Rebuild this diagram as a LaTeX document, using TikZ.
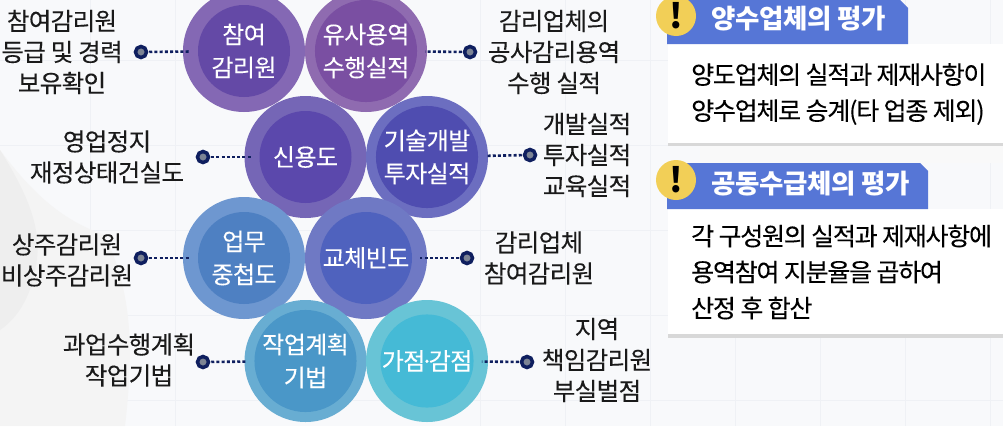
\documentclass[tikz,border=0pt]{standalone}
\usepackage{fontspec}
\setmainfont[LetterSpace=-2.5,FakeBold=0.12]{Noto Sans CJK KR}
\newfontfamily\bodyfont[LetterSpace=-5,FakeBold=0.12]{Noto Sans CJK KR}
\newfontfamily\ttlfont[LetterSpace=-1.5]{Noto Sans CJK KR}
\usetikzlibrary{calc}
\definecolor{bgc}{HTML}{F8F9FB}
\definecolor{gridc}{HTML}{EFF1F5}
\definecolor{navy}{HTML}{0F1F5F}
\definecolor{dotg}{HTML}{7C8494}
\definecolor{tabc}{HTML}{5676D6}
\definecolor{yel}{HTML}{F2CF57}
\definecolor{sh}{HTML}{D8D8D8}
\definecolor{inkc}{HTML}{1A1A1A}
\definecolor{o1}{HTML}{8468B4}\definecolor{i1}{HTML}{6449A6}
\definecolor{o2}{HTML}{8F6BB0}\definecolor{i2}{HTML}{7A4FA2}
\definecolor{o3}{HTML}{7566B6}\definecolor{i3}{HTML}{5B48AC}
\definecolor{o4}{HTML}{6C6EC0}\definecolor{i4}{HTML}{4F4DB0}
\definecolor{o5}{HTML}{6E97D0}\definecolor{i5}{HTML}{4E80C2}
\definecolor{o6}{HTML}{6F79C4}\definecolor{i6}{HTML}{4F62BE}
\definecolor{o7}{HTML}{68ADD2}\definecolor{i7}{HTML}{4A97C8}
\definecolor{o8}{HTML}{68C4D6}\definecolor{i8}{HTML}{45BAD6}
\tikzset{
  ring/.style={circle,inner sep=0,minimum size=122pt,fill=#1},
  core/.style={circle,inner sep=0,minimum size=92pt,fill=#1,text=white,align=center,font=\fontsize{24}{33}\selectfont},
  dotn/.style={circle,inner sep=0,minimum size=11pt,fill=dotg,draw=navy,line width=3.5pt},
  lbl/.style={inner sep=0,align=center,text=inkc,font=\fontsize{24.5}{31}\selectfont},
  body/.style={inner sep=0,align=left,text=black,anchor=west,font=\fontsize{25}{36}\bodyfont},
  ttl/.style={inner sep=0,anchor=west,text=white,font=\fontsize{26.5}{30}\ttlfont\bfseries},
  conn/.style={navy,line width=2.6pt,dash pattern=on 3pt off 2.2pt},
  panel/.style={fill=white},
  tab/.style={fill=tabc},
  badge/.style={circle,inner sep=0,minimum size=40pt,fill=yel},
  bang/.style={inner sep=0,text=black,font=\fontsize{34}{34}\ttlfont\bfseries}
}
\begin{document}
\begin{tikzpicture}[x=1pt,y=-1pt]
\useasboundingbox (0,0) rectangle (1003,426);
\fill[bgc] (0,0) rectangle (1003,426);
\foreach \g in {60,145,230,315,400}{\draw[gridc,line width=.7pt] (0,\g) -- (1003,\g);}
\foreach \g in {90,175,480,565,650,735,820,905,990}{\draw[gridc,line width=.7pt] (\g,0) -- (\g,426);}
% faint figure at the left
\fill[gray!9] (0,150) .. controls (30,190) and (60,220) .. (105,235) .. controls (130,290) and (135,340) .. (125,426) -- (0,426) -- cycle;
\fill[gray!13] (0,150) .. controls (25,190) and (45,230) .. (35,270) .. controls (30,300) and (15,320) .. (0,330) -- cycle;
\fill[gray!5] (700,146) rectangle (1003,163);
% circles
\foreach \n/\x/\y/\c in {1/244/51/1,2/366/51/2,3/305.5/157/3,4/427/157/4,5/244/258/5,6/366/258/6,7/305.5/361/7,8/427/361/8}{
  \node[ring=o\c] (r\n) at (\x,\y) {};
}
\node[core=i1] (c1) at (r1) {참여\\감리원};
\node[core=i2] (c2) at (r2) {유사용역\\수행실적};
\node[core=i3] (c3) at (r3) {신용도};
\node[core=i4] (c4) at (r4) {기술개발\\투자실적};
\node[core=i5] (c5) at (r5) {업무\\중첩도};
\node[core=i6] (c6) at (r6) {교체빈도};
\node[core=i7] (c7) at (r7) {작업계획\\기법};
\node[core=i8] (c8) at (r8) {가점\kern-5pt·\kern-5pt감점};
% dots
\node[dotn] (d1) at (141,52) {};
\node[dotn] (d2) at (470,52) {};
\node[dotn] (d3) at (203,157) {};
\node[dotn] (d4) at (530,155) {};
\node[dotn] (d5) at (141,258) {};
\node[dotn] (d6) at (467,258) {};
\node[dotn] (d7) at (203,362) {};
\node[dotn] (d8) at (527,362) {};
\foreach \n in {1,...,8}{\draw[conn,shorten >=8pt,shorten <=1pt] (d\n) -- (c\n);}
% labels
\node[lbl] (l1) at (62,52) {참여감리원\\등급 및 경력\\보유확인};
\node[lbl] (l2) at (554,52) {감리업체의\\공사감리용역\\수행 실적};
\node[lbl] (l3) at (107,157) {영업정지\\재정상태건실도};
\node[lbl] (l4) at (587,155) {개발실적\\투자실적\\교육실적};
\node[lbl] (l5) at (67,260) {상주감리원\\비상주감리원};
\node[lbl] (l6) at (539,258) {감리업체\\참여감리원};
\node[lbl] (l7) at (129,360) {과업수행계획\\작업기법};
\node[lbl] (l8) at (597,360) {지역\\책임감리원\\부실벌점};
% panels
\fill[sh] (668,143) rectangle (1003,146);
\fill[panel] (668,44) rectangle (1003,143);
\fill[sh] (668,334) rectangle (1003,338);
\fill[panel] (668,209) rectangle (1003,334);
\fill[tab] (667,0) -- (900,0) -- (908,8) -- (908,44) -- (667,44) -- cycle;
\fill[tab] (667,163) -- (920,163) -- (928,171) -- (928,209) -- (667,209) -- cycle;
\node[badge] (b1) at (676,16) {};
\node[bang] at (b1) {!};
\node[badge] (b2) at (676,180) {};
\node[bang] at (b2) {!};
\node[ttl] (t1) at (711,19) {양수업체의 평가};
\node[ttl] (t2) at (711,184) {공동수급체의 평가};
\node[body] (p1) at (691,94) {양도업체의 실적과 제재사항이\\양수업체로 승계(타 업종 제외)};
\node[body] (p2) at (691,272) {각 구성원의 실적과 제재사항에\\용역참여 지분율을 곱하여\\산정 후 합산};
\end{tikzpicture}
\end{document}
